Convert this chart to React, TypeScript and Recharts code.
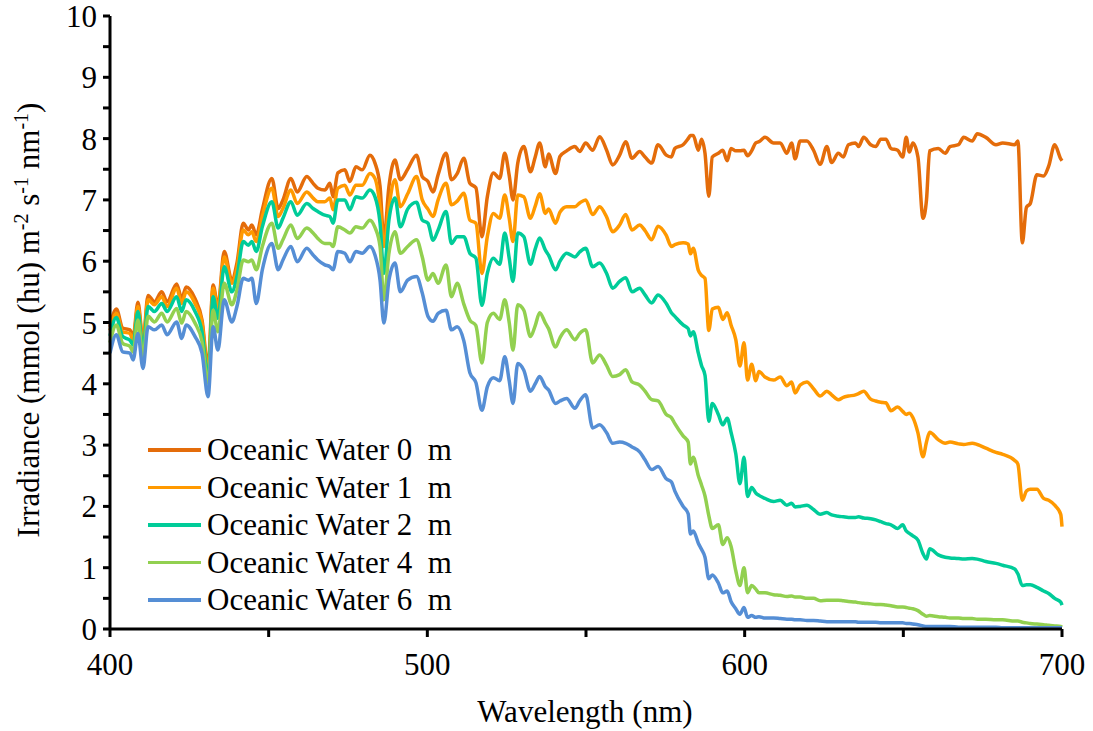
import React from 'react';
import { LineChart, Line, XAxis, YAxis, Legend } from 'recharts';

// wavelength grid (nm)
const wavelengths = [
  400, 402, 404, 406.3, 407.3, 408.8, 410.4, 412, 414, 416.3, 418, 421, 422.6, 424, 426.8, 429, 430.9, 432.5, 434, 436,
  438.4, 440, 442, 443.6, 444.7, 446.1, 448, 451, 453, 454.5, 457, 459,
  462, 464, 465.5, 467.7, 469.3, 470.3, 471.8, 474, 475.6, 477.5, 479.5, 481.9,
  483.5, 485.1, 486.3, 487.9, 489.8, 491.5, 493.8, 496.6, 498.4, 500.2, 501.8, 503.4, 505.9, 507.6, 509.4, 511.5,
  513.4, 515.3, 517.2, 518.9, 520.8, 522.8,
  524.4, 525.8, 527.0, 528.5, 530.4, 532.5, 534.0, 535.4, 537.2, 538.2, 540.4, 541.8, 543.9, 546.5, 548.0, 549.9,
  552.1, 554.3, 556.5, 558.4, 560.6, 562.5, 564.5, 566.9, 568.6, 570.7, 572.7,
  575.3, 576.9, 578.0, 580.6, 582.2, 582.9, 583.8, 585.4, 586.4, 587.5, 588.7, 589.8, 591.7, 593.1, 594.5, 595.7,
  597.2, 598.5, 599.8, 600.9, 602.2, 603.5, 604.5, 606.4, 609.1, 611.2, 613.3, 614.8, 615.9, 617.5, 619.6, 621.7,
  623.8, 625.9, 627.4,
  629.5, 631.1, 632.7, 634.9, 635.9, 637.5, 639.7, 641.3, 642.9, 644.5, 646.1, 648.2, 649.8, 650.9, 651.9, 653.0,
  654.6, 656.2, 657.3, 658.3, 661.0, 663.2, 664.7, 667.4, 669.0, 671.7, 673.3, 676.0, 679.2, 681.3, 685.1, 686.1,
  687.5, 688.8, 690.0, 692.1, 694.2, 695.8, 697.7, 699.6, 700,
];

const water0m = [
  4.93, 5.22, 4.91, 4.88, 4.77, 5.33, 4.71, 5.44, 5.34, 5.50, 5.34, 5.63, 5.39, 5.58, 5.39, 5.04, 4.28, 5.61, 5.26, 6.16,
  5.69, 5.97, 6.62, 6.51, 6.59, 6.43, 6.84, 7.35, 6.86, 7.00, 7.35, 7.13,
  7.38, 7.27, 7.19, 7.16, 7.27, 7.05, 7.44, 7.49, 7.30, 7.54, 7.49, 7.73,
  7.60, 7.22, 6.35, 7.22, 7.65, 7.33, 7.50, 7.73, 7.38, 7.30, 7.13, 7.41, 7.76, 7.33, 7.43, 7.68,
  7.27, 7.20, 6.40, 7.05, 7.44, 7.35,
  7.76, 7.40, 7.00, 7.60, 7.87, 7.46, 7.70, 7.93, 7.54, 7.75, 7.43, 7.71, 7.80, 7.87, 7.79, 7.93,
  7.81, 8.03, 7.81, 7.57, 7.73, 7.95, 7.68, 7.79, 7.70, 7.60, 7.90,
  7.73, 7.70, 7.84, 7.90, 8.00, 8.05, 8.05, 7.81, 7.99, 7.76, 7.06, 7.70, 7.76, 7.81, 7.64, 7.84,
  7.80, 7.80, 7.81, 7.72, 7.80, 7.93, 7.95, 8.02, 7.93, 7.93, 7.76, 7.93, 7.67, 7.96, 7.96, 7.81,
  7.58, 7.87, 7.61,
  7.76, 7.70, 7.90, 7.93, 7.87, 8.02, 7.90, 7.87, 7.99, 7.99, 7.84, 7.81, 7.70, 8.02, 7.78, 7.93,
  7.70, 6.70, 7.00, 7.80, 7.84, 7.76, 7.87, 7.90, 8.02, 7.96, 8.08, 8.02, 7.90, 7.93, 7.90, 7.96,
  6.30, 6.88, 6.94, 7.41, 7.39, 7.55, 7.90, 7.67, 7.64,
];

const water1m = [
  4.87, 5.15, 4.85, 4.82, 4.71, 5.26, 4.66, 5.37, 5.29, 5.42, 5.26, 5.56, 5.31, 5.50, 5.31, 4.99, 4.17, 5.56, 5.20, 6.07,
  5.64, 5.88, 6.51, 6.43, 6.48, 6.32, 6.73, 7.19, 6.73, 6.86, 7.16, 6.94,
  7.13, 7.03, 6.97, 6.97, 7.03, 6.84, 7.19, 7.24, 7.08, 7.24, 7.24, 7.43,
  7.35, 6.89, 6.24, 6.89, 7.33, 6.89, 7.10, 7.38, 7.00, 6.85, 6.73, 7.00, 7.27, 6.92, 6.98, 7.11,
  6.67, 6.62, 5.80, 6.40, 6.78, 6.70,
  7.08, 6.70, 6.32, 7.08, 7.05, 6.70, 6.90, 7.10, 6.78, 6.85, 6.62, 6.80, 6.89, 6.89, 6.95, 7.00,
  6.76, 6.89, 6.72, 6.48, 6.59, 6.76, 6.51, 6.59, 6.50, 6.35, 6.57,
  6.42, 6.24, 6.27, 6.30, 6.28, 6.12, 6.21, 5.85, 5.77, 5.72, 4.87, 5.22, 5.25, 5.05, 5.16, 4.96,
  4.72, 4.29, 4.67, 4.06, 4.32, 4.05, 4.20, 4.11, 4.06, 4.11, 3.97, 4.03, 3.85, 3.98, 4.03, 3.92,
  3.80, 3.88, 3.82,
  3.74, 3.78, 3.80, 3.82, 3.84, 3.88, 3.75, 3.72, 3.70, 3.69, 3.56, 3.62, 3.55, 3.50, 3.52, 3.45,
  3.20, 2.81, 3.05, 3.21, 3.09, 3.03, 3.05, 3.02, 3.01, 3.03, 3.01, 2.95, 2.88, 2.85, 2.75, 2.69,
  2.10, 2.25, 2.28, 2.28, 2.13, 2.10, 2.02, 1.87, 1.67,
];

const water2m = [
  4.78, 5.08, 4.77, 4.71, 4.63, 5.18, 4.55, 5.26, 5.18, 5.31, 5.18, 5.42, 5.18, 5.37, 5.18, 4.85, 4.09, 5.42, 5.07, 5.91,
  5.50, 5.75, 6.32, 6.26, 6.32, 6.16, 6.56, 6.97, 6.54, 6.70, 6.97, 6.75,
  6.94, 6.86, 6.81, 6.75, 6.73, 6.62, 7.00, 7.00, 6.84, 7.05, 7.03, 7.16,
  7.05, 6.62, 5.80, 6.67, 7.03, 6.56, 6.85, 6.96, 6.67, 6.62, 6.34, 6.51, 6.81, 6.29, 6.40, 6.40,
  6.13, 6.05, 5.28, 5.80, 6.05, 5.95,
  6.46, 6.05, 5.67, 6.46, 6.40, 5.95, 6.20, 6.38, 6.18, 6.10, 5.86, 6.00, 6.13, 6.07, 6.15, 6.21,
  5.91, 5.97, 5.80, 5.56, 5.67, 5.73, 5.50, 5.56, 5.45, 5.32, 5.45,
  5.31, 5.16, 5.10, 4.96, 4.90, 4.78, 4.85, 4.50, 4.30, 4.14, 3.39, 3.68, 3.50, 3.33, 3.44, 3.21,
  2.86, 2.37, 2.80, 2.16, 2.31, 2.22, 2.18, 2.13, 2.08, 2.10, 2.02, 2.05, 1.99, 2.00, 2.02, 1.95,
  1.87, 1.90, 1.86,
  1.84, 1.83, 1.82, 1.82, 1.83, 1.81, 1.80, 1.78, 1.75, 1.72, 1.70, 1.64, 1.70, 1.60, 1.56, 1.52,
  1.45, 1.23, 1.14, 1.31, 1.21, 1.17, 1.16, 1.15, 1.14, 1.15, 1.14, 1.10, 1.07, 1.04, 0.98, 0.90,
  0.71, 0.72, 0.72, 0.68, 0.62, 0.58, 0.50, 0.44, 0.39,
];

const water4m = [
  4.67, 4.96, 4.66, 4.61, 4.52, 5.04, 4.44, 5.10, 5.01, 5.15, 5.01, 5.23, 4.99, 5.18, 4.99, 4.69, 4.01, 5.20, 4.85, 5.64,
  5.29, 5.53, 6.02, 5.99, 6.02, 5.86, 6.24, 6.62, 6.21, 6.35, 6.59, 6.37,
  6.54, 6.46, 6.37, 6.29, 6.29, 6.24, 6.56, 6.51, 6.46, 6.56, 6.54, 6.67,
  6.55, 6.24, 5.37, 6.13, 6.48, 6.13, 6.24, 6.35, 6.07, 5.69, 5.80, 5.64, 5.94, 5.42, 5.64, 5.30,
  5.04, 4.95, 4.34, 5.00, 5.15, 5.05,
  5.37, 5.00, 4.55, 5.29, 5.20, 4.77, 4.95, 5.16, 4.99, 4.90, 4.60, 4.75, 4.88, 4.72, 4.82, 4.88,
  4.34, 4.47, 4.30, 4.12, 4.15, 4.23, 4.03, 3.98, 3.88, 3.74, 3.72,
  3.50, 3.45, 3.35, 3.15, 3.05, 2.69, 2.80, 2.50, 2.35, 2.17, 1.85, 1.64, 1.70, 1.38, 1.49, 1.35,
  0.95, 0.71, 1.00, 0.59, 0.71, 0.65, 0.59, 0.59, 0.56, 0.55, 0.53, 0.54, 0.52, 0.52, 0.50, 0.50,
  0.46, 0.47, 0.47,
  0.47, 0.46, 0.45, 0.44, 0.43, 0.42, 0.41, 0.40, 0.40, 0.39, 0.38, 0.36, 0.36, 0.35, 0.34, 0.33,
  0.30, 0.24, 0.21, 0.22, 0.20, 0.19, 0.18, 0.18, 0.17, 0.17, 0.16, 0.16, 0.15, 0.15, 0.13, 0.13,
  0.11, 0.10, 0.09, 0.08, 0.07, 0.06, 0.05, 0.04, 0.03,
];

const water6m = [
  4.50, 4.80, 4.52, 4.50, 4.39, 4.82, 4.25, 4.93, 4.88, 4.96, 4.80, 5.01, 4.74, 4.96, 4.77, 4.50, 3.79, 4.93, 4.55, 5.37,
  5.01, 5.26, 5.72, 5.69, 5.72, 5.31, 5.86, 6.29, 5.86, 6.02, 6.24, 5.99,
  6.21, 6.10, 6.02, 5.94, 5.91, 5.86, 6.16, 6.13, 5.99, 6.16, 6.13, 6.24,
  6.10, 5.69, 4.99, 5.69, 5.97, 5.50, 5.69, 5.75, 5.48, 5.10, 5.02, 5.15, 5.20, 4.88, 4.93, 4.70,
  4.18, 4.02, 3.57, 3.95, 4.10, 4.05,
  4.44, 4.05, 3.68, 4.33, 4.22, 3.88, 4.00, 4.12, 3.95, 3.90, 3.68, 3.72, 3.76, 3.60, 3.72, 3.82,
  3.28, 3.33, 3.20, 3.03, 3.05, 3.03, 2.97, 2.89, 2.76, 2.60, 2.65,
  2.45, 2.40, 2.25, 2.00, 1.88, 1.55, 1.60, 1.40, 1.30, 1.17, 0.82, 0.88, 0.75, 0.59, 0.62, 0.45,
  0.33, 0.24, 0.35, 0.19, 0.22, 0.19, 0.20, 0.18, 0.18, 0.17, 0.16, 0.16, 0.15, 0.15, 0.14, 0.14,
  0.13, 0.12, 0.12,
  0.12, 0.12, 0.12, 0.12, 0.11, 0.11, 0.11, 0.11, 0.10, 0.10, 0.10, 0.10, 0.10, 0.09, 0.09, 0.08,
  0.07, 0.05, 0.04, 0.04, 0.04, 0.04, 0.04, 0.03, 0.03, 0.03, 0.03, 0.03, 0.03, 0.02, 0.02, 0.02,
  0.02, 0.02, 0.02, 0.02, 0.02, 0.02, 0.02, 0.02, 0.02,
];

const seriesNames = [
  'Oceanic Water 0  m',
  'Oceanic Water 1  m',
  'Oceanic Water 2  m',
  'Oceanic Water 4  m',
  'Oceanic Water 6  m',
];
const seriesKeys = ['d0', 'd1', 'd2', 'd4', 'd6'];
const seriesColors = ['#E46C0A', '#FF9900', '#00CC99', '#92D050', '#558ED5'];

const xTicks = [400, 450, 500, 550, 600, 650, 700];
const yTicks = [0, 0.5, 1, 1.5, 2, 2.5, 3, 3.5, 4, 4.5, 5, 5.5, 6, 6.5, 7, 7.5, 8, 8.5, 9, 9.5, 10];

const data = wavelengths.map((w, i) => ({
  w,
  d0: water0m[i],
  d1: water1m[i],
  d2: water2m[i],
  d4: water4m[i],
  d6: water6m[i],
}));

const FONT = '"Liberation Serif", "Times New Roman", serif';

function YTitle() {
  return (
    <text
      transform="translate(39,320) rotate(-90)"
      textAnchor="middle"
      fontFamily={FONT}
      fontSize={31}
      fill="#000"
    >
      Irradiance (mmol (hu) m
      <tspan dy={-11} fontSize={20}>-2</tspan>
      <tspan dy={11}> s</tspan>
      <tspan dy={-11} fontSize={20}>-1</tspan>
      <tspan dy={11}> nm</tspan>
      <tspan dy={-11} fontSize={20}>-1</tspan>
      <tspan dy={11}>)</tspan>
    </text>
  );
}

function XTitle() {
  return (
    <text x={585} y={722} textAnchor="middle" fontFamily={FONT} fontSize={31} fill="#000">
      Wavelength (nm)
    </text>
  );
}

function LegendBox() {
  return (
    <div style={{ fontFamily: FONT, fontSize: 31, color: '#000' }}>
      {seriesNames.map((name, i) => (
        <div key={name} style={{ display: 'flex', alignItems: 'center', height: 37.5 }}>
          <div style={{ width: 53, height: 3.5, background: seriesColors[i], marginRight: 6 }} />
          <span style={{ whiteSpace: 'pre', lineHeight: 1 }}>{name}</span>
        </div>
      ))}
    </div>
  );
}

export default function App() {
  const tickStyle = { fill: '#000', fontSize: 31, fontFamily: FONT };
  return (
    <div style={{ position: 'absolute', left: 0, top: 0, background: '#fff' }}>
      <LineChart
        width={1093}
        height={731}
        data={data}
        margin={{ top: 16, right: 31, bottom: 42, left: 30 }}
      >
        <XAxis
          dataKey="w"
          type="number"
          domain={[400, 700]}
          ticks={xTicks}
          interval={0}
          tickFormatter={(v: number) => (v % 100 === 0 ? String(v) : '')}
          height={60}
          tickSize={8}
          tickMargin={16}
          tick={tickStyle}
          axisLine={{ stroke: '#000', strokeWidth: 3 }}
          tickLine={{ stroke: '#000', strokeWidth: 3 }}
          label={<XTitle />}
        />
        <YAxis
          type="number"
          domain={[0, 10]}
          ticks={yTicks}
          interval={0}
          tickFormatter={(v: number) => (Number.isInteger(v) ? String(v) : '')}
          width={80}
          tickSize={7}
          tickMargin={6}
          tick={tickStyle}
          axisLine={{ stroke: '#000', strokeWidth: 3 }}
          tickLine={{ stroke: '#000', strokeWidth: 3 }}
          label={<YTitle />}
        />
        <Legend
          layout="vertical"
          verticalAlign="middle"
          align="center"
          content={() => <LegendBox />}
          wrapperStyle={{ left: 148, top: 431, width: 320, height: 190 }}
        />
        {seriesKeys.map((k, i) => (
          <Line
            key={k}
            type="monotone"
            dataKey={k}
            name={seriesNames[i]}
            stroke={seriesColors[i]}
            strokeWidth={3.5}
            strokeLinejoin="round"
            dot={false}
            activeDot={false}
            isAnimationActive={false}
          />
        ))}
      </LineChart>
    </div>
  );
}
